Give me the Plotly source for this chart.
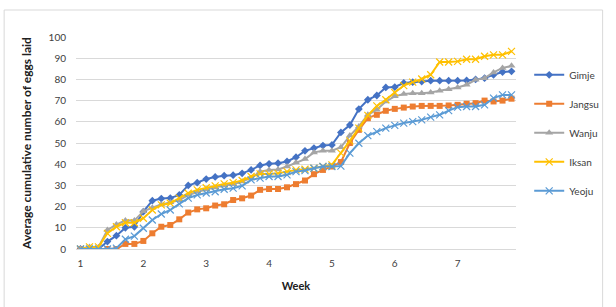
import plotly.graph_objects as go

days = list(range(1, 50))
week_tickvals = [1, 8, 15, 22, 29, 36, 43]
week_ticktext = ["1", "2", "3", "4", "5", "6", "7"]

gimje = [0, 0, 0, 3.5, 6.3, 10, 10.5, 17.6, 22.8, 23.8, 24, 25.5, 30, 31.3, 33, 34, 34.6, 34.8, 35.7, 37.3,
         39.4, 40.2, 40.5, 41.3, 43.3, 46.3, 47.6, 48.8, 49.1, 55, 58.5, 66, 70.4, 72.4, 76.2, 76.4, 78.3, 78.7,
         79, 79.4, 79.4, 79.4, 79.4, 79.5, 80, 80.6, 82.2, 83.5, 83.8]
jangsu = [0, 0, 0, 0, 0, 2.4, 2.4, 3.8, 7.4, 10.5, 11.3, 14, 17.2, 18.7, 19.2, 20.5, 21.1, 23.1, 23.9, 25.2,
          27.9, 28.3, 28.3, 29.1, 30.6, 32.3, 35.3, 37.3, 38.9, 41, 50, 56.2, 61.7, 63.3, 65.2, 66.1, 66.7, 67.2,
          67.5, 67.5, 67.5, 67.7, 68, 68.5, 68.8, 70, 69.6, 70, 70.9]
wanju = [0, 1, 0.8, 9, 11.5, 13.5, 13.4, 17.8, 19.5, 21, 22, 23, 25.5, 27, 28.2, 29, 30, 30.5, 31.8, 33.5,
         36.5, 37.3, 37.5, 38.9, 40.8, 42.4, 45.5, 46.4, 46.4, 48, 53.5, 57.8, 63.3, 65.7, 69.6, 72, 73.1, 73.5,
         73.5, 73.8, 74.6, 75.4, 76.2, 77.5, 79.8, 80.6, 83.3, 85.4, 86.4]
iksan = [0, 1, 1, 7.4, 10.5, 12.4, 12.4, 14.5, 18.4, 20.8, 21.6, 24, 26.3, 27.9, 28.9, 29.8, 30.7, 31.3, 32.3,
         34.2, 35.4, 35.4, 35.7, 36.5, 37.3, 37.6, 38.1, 38.9, 39.7, 45.2, 51, 57, 63, 67.5, 70.4, 73.8, 77.1,
         78.7, 80.2, 82.2, 88.2, 88.2, 88.5, 89.5, 89.5, 90.9, 91.6, 91.6, 93.2]
yeoju = [0, 0, 0, 0, 0.4, 4.6, 6.1, 9.8, 13.7, 16.5, 18.4, 21.3, 24, 25.5, 26.4, 27, 28.2, 28.7, 29.8, 32.6,
         33.4, 34.2, 34.2, 35, 36.5, 37, 38.1, 38.9, 38.9, 39.1, 45.2, 49.9, 53.5, 55.4, 57, 58.3, 59.4, 60.1,
         60.9, 62.2, 63.3, 65.3, 66.9, 67.2, 67.2, 68, 71.2, 72.7, 72.7]

series = [
    ("Gimje", gimje, "#4472C4", "diamond", 6),
    ("Jangsu", jangsu, "#ED7D31", "square", 6),
    ("Wanju", wanju, "#A5A5A5", "triangle-up", 7),
    ("Iksan", iksan, "#FFC000", "x-thin", 7),
    ("Yeoju", yeoju, "#5B9BD5", "x-thin", 7),
]

fig = go.Figure()
for name, vals, color, sym, sz in series:
    marker = dict(symbol=sym, size=sz, color=color)
    if sym == "x-thin":
        marker["line"] = dict(color=color, width=1.2)
    fig.add_trace(go.Scatter(
        x=days, y=vals, name=name, mode="lines+markers",
        line=dict(color=color, width=2), marker=marker, legendgroup=name,
    ))

fig.update_layout(
    width=616, height=307,
    margin=dict(l=76, r=93, t=37, b=58),
    paper_bgcolor="white", plot_bgcolor="white",
    font=dict(family="Lato, Open Sans, sans-serif", size=10, color="#404040"),
    showlegend=True,
    legend=dict(x=1.03, y=0.89, xanchor="left", yanchor="top",
                font=dict(size=10, color="#404040"), tracegroupgap=10,
                bgcolor="rgba(0,0,0,0)"),
    xaxis=dict(range=[0.5, 49.5], tickvals=week_tickvals, ticktext=week_ticktext,
               showgrid=False, zeroline=False, showline=True, linecolor="#D9D9D9",
               ticks="", ticklabelstandoff=5, tickfont=dict(size=10, color="#404040"),
               title=dict(text="<b>Week</b>", font=dict(size=11, color="#202020"), standoff=14)),
    yaxis=dict(range=[0, 100], dtick=10, showgrid=True, gridcolor="#D9D9D9", gridwidth=1,
               zeroline=False, showline=False, ticks="", ticklabelstandoff=9,
               tickfont=dict(size=10, color="#404040"),
               title=dict(text="<b>Average cumulative number of eggs laid</b>",
                          font=dict(size=12, color="#202020"), standoff=14)),
)

fig.add_shape(type="rect", xref="paper", yref="paper",
              x0=(3 - 76) / 447, x1=(611 - 76) / 447,
              y0=(249 - 320) / 212, y1=(249 - 10) / 212,
              line=dict(color="#D9D9D9", width=1), fillcolor="rgba(0,0,0,0)", layer="below")

fig.write_html("out.html")
